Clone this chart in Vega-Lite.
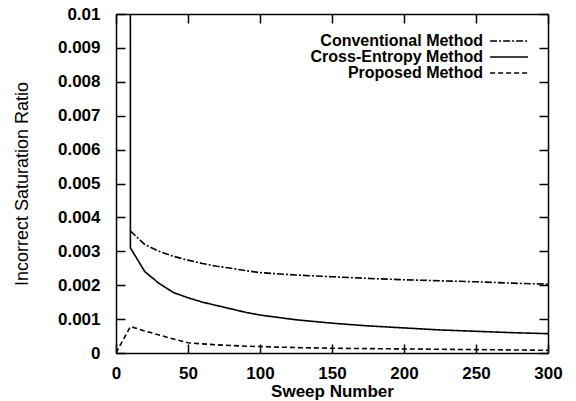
{
  "$schema": "https://vega.github.io/schema/vega-lite/v6.json",
  "width": 432,
  "height": 339,
  "autosize": "none",
  "padding": {"left": 116, "top": 14, "right": 28, "bottom": 48},
  "background": "white",
  "config": {
    "view": {"stroke": null},
    "font": "Liberation Sans",
    "axis": {
      "domainColor": "black", "domainWidth": 1.5,
      "tickColor": "black", "tickWidth": 1.5,
      "labelColor": "black", "titleColor": "black",
      "labelFont": "Liberation Sans", "labelFontSize": 17, "labelFontWeight": "bold",
      "labelFlush": false,
      "titleFont": "Liberation Sans", "grid": false
    },
    "legend": {"labelFont": "Liberation Sans"}
  },
  "data": {"values": [
    {"method": "Conventional Method", "x": 10, "y": 0.0036},
    {"method": "Conventional Method", "x": 20, "y": 0.0032},
    {"method": "Conventional Method", "x": 30, "y": 0.003},
    {"method": "Conventional Method", "x": 40, "y": 0.00285},
    {"method": "Conventional Method", "x": 50, "y": 0.00274},
    {"method": "Conventional Method", "x": 60, "y": 0.00264},
    {"method": "Conventional Method", "x": 70, "y": 0.00256},
    {"method": "Conventional Method", "x": 80, "y": 0.0025},
    {"method": "Conventional Method", "x": 90, "y": 0.00243},
    {"method": "Conventional Method", "x": 100, "y": 0.00237},
    {"method": "Conventional Method", "x": 125, "y": 0.0023},
    {"method": "Conventional Method", "x": 150, "y": 0.00225},
    {"method": "Conventional Method", "x": 175, "y": 0.0022},
    {"method": "Conventional Method", "x": 200, "y": 0.00216},
    {"method": "Conventional Method", "x": 225, "y": 0.00213},
    {"method": "Conventional Method", "x": 250, "y": 0.0021},
    {"method": "Conventional Method", "x": 275, "y": 0.00206},
    {"method": "Conventional Method", "x": 300, "y": 0.00203},
    {"method": "Cross-Entropy Method", "x": 9.5, "y": 0.2},
    {"method": "Cross-Entropy Method", "x": 10, "y": 0.0031},
    {"method": "Cross-Entropy Method", "x": 20, "y": 0.0024},
    {"method": "Cross-Entropy Method", "x": 30, "y": 0.00205},
    {"method": "Cross-Entropy Method", "x": 40, "y": 0.00178},
    {"method": "Cross-Entropy Method", "x": 50, "y": 0.00163},
    {"method": "Cross-Entropy Method", "x": 60, "y": 0.0015},
    {"method": "Cross-Entropy Method", "x": 70, "y": 0.0014},
    {"method": "Cross-Entropy Method", "x": 80, "y": 0.0013},
    {"method": "Cross-Entropy Method", "x": 90, "y": 0.0012},
    {"method": "Cross-Entropy Method", "x": 100, "y": 0.00112},
    {"method": "Cross-Entropy Method", "x": 125, "y": 0.00098},
    {"method": "Cross-Entropy Method", "x": 150, "y": 0.00088},
    {"method": "Cross-Entropy Method", "x": 175, "y": 0.0008},
    {"method": "Cross-Entropy Method", "x": 200, "y": 0.00074},
    {"method": "Cross-Entropy Method", "x": 225, "y": 0.00068},
    {"method": "Cross-Entropy Method", "x": 250, "y": 0.00064},
    {"method": "Cross-Entropy Method", "x": 275, "y": 0.0006},
    {"method": "Cross-Entropy Method", "x": 300, "y": 0.00057},
    {"method": "Proposed Method", "x": 0, "y": 0},
    {"method": "Proposed Method", "x": 10, "y": 0.00078},
    {"method": "Proposed Method", "x": 20, "y": 0.00065},
    {"method": "Proposed Method", "x": 30, "y": 0.00053},
    {"method": "Proposed Method", "x": 40, "y": 0.00041},
    {"method": "Proposed Method", "x": 50, "y": 0.0003},
    {"method": "Proposed Method", "x": 60, "y": 0.00027},
    {"method": "Proposed Method", "x": 70, "y": 0.00024},
    {"method": "Proposed Method", "x": 80, "y": 0.00022},
    {"method": "Proposed Method", "x": 90, "y": 0.0002},
    {"method": "Proposed Method", "x": 100, "y": 0.00019},
    {"method": "Proposed Method", "x": 125, "y": 0.00016},
    {"method": "Proposed Method", "x": 150, "y": 0.00014},
    {"method": "Proposed Method", "x": 175, "y": 0.00013},
    {"method": "Proposed Method", "x": 200, "y": 0.00012},
    {"method": "Proposed Method", "x": 225, "y": 0.00011},
    {"method": "Proposed Method", "x": 250, "y": 0.0001},
    {"method": "Proposed Method", "x": 275, "y": 0.00009},
    {"method": "Proposed Method", "x": 300, "y": 0.00008}
  ]},
  "layer": [
    {
      "mark": {"type": "line", "color": "black", "strokeWidth": 1.6, "clip": true},
      "encoding": {
        "x": {"field": "x", "type": "quantitative",
              "scale": {"domain": [0, 300], "nice": false, "zero": false},
              "axis": {"orient": "bottom", "values": [0, 50, 100, 150, 200, 250, 300], "tickSize": -9, "labelPadding": 21,
                       "title": "Sweep Number", "titleFontSize": 17, "titleFontWeight": "bold", "titlePadding": 2}},
        "y": {"field": "y", "type": "quantitative",
              "scale": {"domain": [0, 0.01], "nice": false},
              "axis": {"orient": "left", "values": [0, 0.001, 0.002, 0.003, 0.004, 0.005, 0.006, 0.007, 0.008, 0.009, 0.01],
                       "format": ".3~f", "tickSize": -9, "labelPadding": 25,
                       "title": "Incorrect Saturation Ratio", "titleFontSize": 18, "titleFontWeight": "normal", "titlePadding": 26}},
        "strokeDash": {"field": "method", "type": "nominal",
          "scale": {"domain": ["Conventional Method", "Cross-Entropy Method", "Proposed Method"],
                    "range": [[7, 2, 2, 2], [1, 0], [5, 3]]},
          "legend": {"title": null, "orient": "none", "legendX": 385, "legendY": 19,
                     "symbolType": "M-2.7,0H2.7", "symbolSize": 196, "symbolStrokeColor": "black", "symbolStrokeWidth": 1.5,
                     "symbolFillColor": "transparent",
                     "labelFontSize": 16, "labelFontWeight": "bold", "labelColor": "black", "labelLimit": 400,
                     "labelAlign": "right", "labelOffset": -34, "rowPadding": -1, "padding": 0}}
      }
    },
    {
      "mark": {"type": "line", "strokeOpacity": 0, "clip": true},
      "encoding": {
        "detail": {"field": "method"},
        "x": {"field": "x", "type": "quantitative",
              "axis": {"orient": "top", "values": [0, 50, 100, 150, 200, 250, 300], "tickSize": -9, "labels": false, "title": null}},
        "y": {"field": "y", "type": "quantitative",
              "axis": {"orient": "right", "values": [0, 0.001, 0.002, 0.003, 0.004, 0.005, 0.006, 0.007, 0.008, 0.009, 0.01],
                       "tickSize": -9, "labels": false, "title": null}}
      }
    }
  ],
  "resolve": {"axis": {"x": "independent", "y": "independent"}}
}
